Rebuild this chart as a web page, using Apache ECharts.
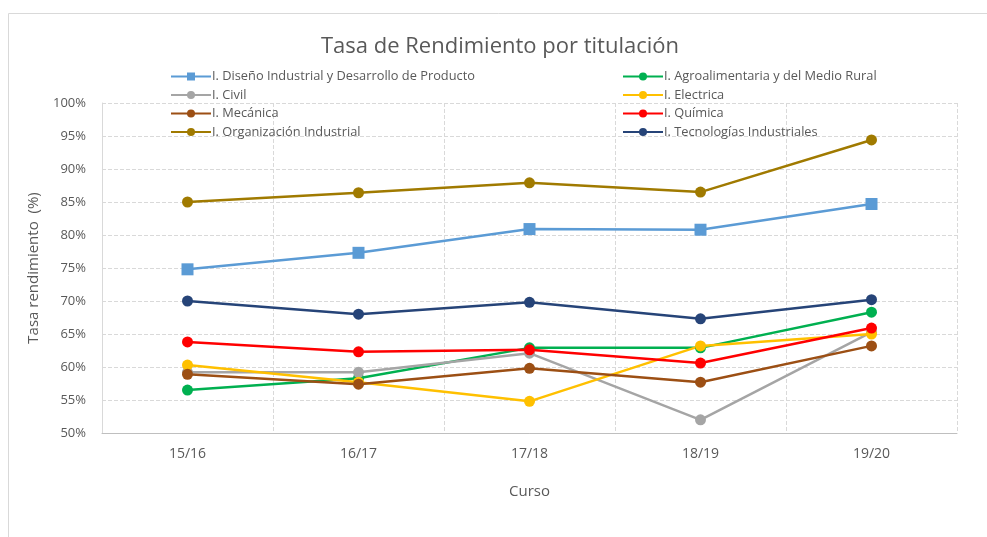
<!DOCTYPE html>
<html><head><meta charset="utf-8">
<script src="https://cdn.jsdelivr.net/npm/echarts@6/dist/echarts.min.js"></script>
<style>html,body{margin:0;padding:0;background:#fff}#c{width:987px;height:537px}</style>
</head><body><div id="c"></div>
<script>
const categories = ['15/16','16/17','17/18','18/19','19/20'];
const diseno = [74.8, 77.3, 80.9, 80.8, 84.7];
const agro = [56.5, 58.3, 62.9, 62.9, 68.3];
const civil = [59.2, 59.2, 62.1, 52.0, 65.3];
const electrica = [60.3, 57.7, 54.8, 63.2, 65.0];
const mecanica = [58.9, 57.4, 59.8, 57.7, 63.2];
const quimica = [63.8, 62.3, 62.6, 60.6, 65.9];
const organizacion = [85.0, 86.4, 87.9, 86.5, 94.4];
const tecnologias = [70.0, 68.0, 69.8, 67.3, 70.2];
const names = ['I. Diseño Industrial y Desarrollo de Producto','I. Agroalimentaria y del Medio Rural','I. Civil','I. Electrica','I. Mecánica','I. Química','I. Organización Industrial','I. Tecnologías Industriales'];
const values = [diseno, agro, civil, electrica, mecanica, quimica, organizacion, tecnologias];
const colors = ['#5B9BD5','#00B050','#A5A5A5','#FFC000','#9C4F14','#FF0000','#A07A00','#264478'];
const font = 'Open Sans';
const legendCommon = {orient:'vertical', top:65, itemWidth:40, itemHeight:10, itemGap:5.5,
  textStyle:{color:'#595959', fontSize:12.8, fontFamily:font, padding:[0,0,0,-4]}};
const chart = echarts.init(document.getElementById('c'), null, {renderer:'canvas'});
chart.setOption({
  animation:false,
  color: colors,
  title:{text:'Tasa de Rendimiento por titulación', left:316, top:31,
    textStyle:{color:'#595959', fontSize:22, fontWeight:'normal', fontFamily:font}},
  graphic:[{type:'rect', shape:{x:8.5,y:13.5,width:990,height:540}, style:{fill:'none', stroke:'#d9d9d9', lineWidth:1}}],
  legend:[
    Object.assign({left:165, data:[names[0],names[2],names[4],names[6]]}, legendCommon),
    Object.assign({left:617, data:[names[1],names[3],names[5],names[7]]}, legendCommon)
  ],
  grid:{left:102, right:30, top:103, bottom:104},
  xAxis:{type:'category', data:categories, boundaryGap:true,
    name:'Curso', nameLocation:'middle', nameGap:51,
    nameTextStyle:{color:'#595959', fontSize:15, fontFamily:font},
    axisLine:{lineStyle:{color:'#bfbfbf'}}, axisTick:{show:false},
    axisLabel:{color:'#595959', fontSize:14, fontFamily:font, margin:14},
    splitLine:{show:true, lineStyle:{color:'#d9d9d9', type:'dashed'}}},
  yAxis:{type:'value', min:50, max:100, interval:5,
    name:'Tasa rendimiento  (%)', nameLocation:'middle', nameGap:61, nameRotate:90,
    nameTextStyle:{color:'#595959', fontSize:15, fontFamily:font},
    axisLine:{show:true, lineStyle:{color:'#d9d9d9'}}, axisTick:{show:false},
    axisLabel:{color:'#595959', fontSize:13, fontFamily:font, formatter:'{value}%', margin:16},
    splitLine:{lineStyle:{color:'#d9d9d9', type:'dashed'}}},
  series: names.map((n,i)=>({name:n, type:'line', data:values[i],
    symbol: i===0?'rect':'circle', symbolSize: i===0?12:11,
    lineStyle:{width:2.5, color:colors[i]}, itemStyle:{color:colors[i]}}))
});
</script></body></html>
